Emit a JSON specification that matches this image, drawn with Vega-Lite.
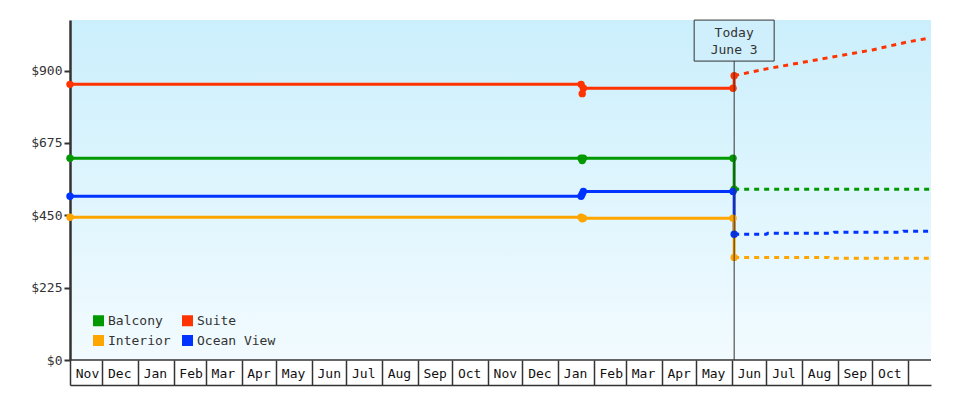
{
  "$schema": "https://vega.github.io/schema/vega-lite/v6.json",
  "width": 861,
  "height": 340,
  "autosize": {"type": "none"},
  "padding": {"left": 70, "top": 20, "right": 49, "bottom": 40},
  "background": "white",
  "config": {
    "font": "DejaVu Sans Mono",
    "view": {
      "stroke": null,
      "fill": {
        "gradient": "linear", "x1": 0, "y1": 0, "x2": 0, "y2": 1,
        "stops": [{"offset": 0, "color": "#cbeffc"}, {"offset": 1, "color": "#f2fbff"}]
      }
    },
    "legend": {
      "title": null, "orient": "none", "legendX": 22, "legendY": 294, "columns": 2,
      "symbolType": "square", "symbolSize": 121, "symbolStrokeWidth": 0, "symbolOpacity": 1,
      "labelFont": "DejaVu Sans Mono", "labelFontSize": 13, "labelColor": "#333",
      "labelOffset": 3, "columnPadding": 10, "rowPadding": 6
    }
  },
  "data": {
    "values": [
      {"s": "Suite", "d": "2012-11-03", "p": 857, "k": "h"},
      {"s": "Suite", "d": "2014-01-21", "p": 857, "k": "h"},
      {"s": "Suite", "d": "2014-01-22", "p": 828, "k": "h"},
      {"s": "Suite", "d": "2014-01-23", "p": 845, "k": "h"},
      {"s": "Suite", "d": "2014-06-02", "p": 845, "k": "h"},
      {"s": "Suite", "d": "2014-06-03", "p": 884, "k": "h"},
      {"s": "Suite", "d": "2014-06-03", "p": 884, "k": "f"},
      {"s": "Suite", "d": "2014-07-01", "p": 905, "k": "f"},
      {"s": "Suite", "d": "2014-08-01", "p": 925, "k": "f"},
      {"s": "Suite", "d": "2014-09-01", "p": 945, "k": "f"},
      {"s": "Suite", "d": "2014-10-01", "p": 964, "k": "f"},
      {"s": "Suite", "d": "2014-11-01", "p": 989, "k": "f"},
      {"s": "Suite", "d": "2014-11-20", "p": 1001, "k": "f"},
      {"s": "Balcony", "d": "2012-11-03", "p": 627, "k": "h"},
      {"s": "Balcony", "d": "2014-01-21", "p": 627, "k": "h"},
      {"s": "Balcony", "d": "2014-01-22", "p": 620, "k": "h"},
      {"s": "Balcony", "d": "2014-01-23", "p": 627, "k": "h"},
      {"s": "Balcony", "d": "2014-06-02", "p": 627, "k": "h"},
      {"s": "Balcony", "d": "2014-06-03", "p": 531, "k": "h"},
      {"s": "Balcony", "d": "2014-06-03", "p": 531, "k": "f"},
      {"s": "Balcony", "d": "2014-11-20", "p": 531, "k": "f"},
      {"s": "Ocean View", "d": "2012-11-03", "p": 509, "k": "h"},
      {"s": "Ocean View", "d": "2014-01-21", "p": 509, "k": "h"},
      {"s": "Ocean View", "d": "2014-01-22", "p": 516, "k": "h"},
      {"s": "Ocean View", "d": "2014-01-23", "p": 524, "k": "h"},
      {"s": "Ocean View", "d": "2014-06-02", "p": 524, "k": "h"},
      {"s": "Ocean View", "d": "2014-06-03", "p": 391, "k": "h"},
      {"s": "Ocean View", "d": "2014-06-03", "p": 391, "k": "f"},
      {"s": "Ocean View", "d": "2014-07-01", "p": 391, "k": "f"},
      {"s": "Ocean View", "d": "2014-07-02", "p": 394, "k": "f"},
      {"s": "Ocean View", "d": "2014-08-28", "p": 394, "k": "f"},
      {"s": "Ocean View", "d": "2014-08-29", "p": 397, "k": "f"},
      {"s": "Ocean View", "d": "2014-10-27", "p": 397, "k": "f"},
      {"s": "Ocean View", "d": "2014-10-28", "p": 400, "k": "f"},
      {"s": "Ocean View", "d": "2014-11-20", "p": 400, "k": "f"},
      {"s": "Interior", "d": "2012-11-03", "p": 444, "k": "h"},
      {"s": "Interior", "d": "2014-01-21", "p": 444, "k": "h"},
      {"s": "Interior", "d": "2014-01-22", "p": 439, "k": "h"},
      {"s": "Interior", "d": "2014-01-23", "p": 441, "k": "h"},
      {"s": "Interior", "d": "2014-06-02", "p": 441, "k": "h"},
      {"s": "Interior", "d": "2014-06-03", "p": 319, "k": "h"},
      {"s": "Interior", "d": "2014-06-03", "p": 319, "k": "f"},
      {"s": "Interior", "d": "2014-08-24", "p": 319, "k": "f"},
      {"s": "Interior", "d": "2014-08-25", "p": 316, "k": "f"},
      {"s": "Interior", "d": "2014-11-20", "p": 316, "k": "f"}
    ]
  },
  "layer": [
    {
      "data": {"values": [{}]},
      "mark": {"type": "rule", "color": "#333", "strokeWidth": 1.5},
      "encoding": {"y": {"datum": 0}}
    },
    {
      "transform": [{"filter": "datum.k == 'h'"}],
      "mark": {"type": "line", "interpolate": "step-after", "strokeWidth": 3},
      "encoding": {
        "x": {
          "field": "d", "type": "temporal",
          "scale": {
            "type": "utc", "nice": false,
            "domain": [{"year": 2012, "month": 11, "date": 3, "utc": true}, {"year": 2014, "month": 11, "date": 21, "utc": true}]
          },
          "axis": {
            "title": null, "orient": "bottom", "offset": 25, "grid": false, "tickCount": 40,
            "values": [
              {"year": 2012, "month": 11, "date": 3, "utc": true},
              {"year": 2012, "month": 12, "date": 1, "utc": true},
              {"year": 2013, "month": 1, "date": 1, "utc": true},
              {"year": 2013, "month": 2, "date": 1, "utc": true},
              {"year": 2013, "month": 3, "date": 1, "utc": true},
              {"year": 2013, "month": 4, "date": 1, "utc": true},
              {"year": 2013, "month": 5, "date": 1, "utc": true},
              {"year": 2013, "month": 6, "date": 1, "utc": true},
              {"year": 2013, "month": 7, "date": 1, "utc": true},
              {"year": 2013, "month": 8, "date": 1, "utc": true},
              {"year": 2013, "month": 9, "date": 1, "utc": true},
              {"year": 2013, "month": 10, "date": 1, "utc": true},
              {"year": 2013, "month": 11, "date": 1, "utc": true},
              {"year": 2013, "month": 12, "date": 1, "utc": true},
              {"year": 2014, "month": 1, "date": 1, "utc": true},
              {"year": 2014, "month": 2, "date": 1, "utc": true},
              {"year": 2014, "month": 3, "date": 1, "utc": true},
              {"year": 2014, "month": 4, "date": 1, "utc": true},
              {"year": 2014, "month": 5, "date": 1, "utc": true},
              {"year": 2014, "month": 6, "date": 1, "utc": true},
              {"year": 2014, "month": 7, "date": 1, "utc": true},
              {"year": 2014, "month": 8, "date": 1, "utc": true},
              {"year": 2014, "month": 9, "date": 1, "utc": true},
              {"year": 2014, "month": 10, "date": 1, "utc": true},
              {"year": 2014, "month": 11, "date": 1, "utc": true}
            ],
            "labelExpr": "datum.value > utc(2014, 9, 15) ? '' : utcFormat(datum.value, '%b')",
            "tickSize": -25, "tickColor": "#333", "tickWidth": 1.5,
            "domainColor": "#333", "domainWidth": 1.5,
            "labelAlign": "center", "labelBaseline": "middle", "labelOffset": 17, "labelPadding": 13,
            "labelFont": "DejaVu Sans Mono", "labelFontSize": 13, "labelColor": "#111",
            "labelOverlap": false, "labelBound": false, "labelFlush": false
          }
        },
        "y": {
          "field": "p", "type": "quantitative",
          "scale": {"domain": [0, 1057], "nice": false},
          "axis": {
            "title": null, "grid": false, "values": [0, 225, 450, 675, 900],
            "labelExpr": "'$' + datum.value",
            "tickSize": 6, "tickWidth": 2, "tickColor": "#333",
            "domainColor": "#333", "domainWidth": 2.5,
            "labelFont": "DejaVu Sans Mono", "labelFontSize": 13, "labelColor": "#333", "labelPadding": 2
          }
        },
        "stroke": {
          "field": "s", "type": "nominal",
          "scale": {"domain": ["Balcony", "Interior", "Suite", "Ocean View"], "range": ["#009900", "#ffa500", "#ff3300", "#0033ff"]}
        }
      }
    },
    {
      "transform": [{"filter": "datum.k == 'f'"}],
      "mark": {"type": "line", "strokeWidth": 3, "strokeDash": [5, 5]},
      "encoding": {
        "x": {"field": "d", "type": "temporal"},
        "y": {"field": "p", "type": "quantitative"},
        "stroke": {"field": "s", "type": "nominal"}
      }
    },
    {
      "transform": [{"filter": "datum.k == 'h'"}],
      "mark": {"type": "point", "shape": "circle", "filled": true, "size": 55, "opacity": 1},
      "encoding": {
        "x": {"field": "d", "type": "temporal"},
        "y": {"field": "p", "type": "quantitative"},
        "fill": {
          "field": "s", "type": "nominal",
          "scale": {"domain": ["Balcony", "Interior", "Suite", "Ocean View"], "range": ["#009900", "#ffa500", "#ff3300", "#0033ff"]}
        }
      }
    },
    {
      "data": {"values": [{"t": "2014-06-03"}]},
      "mark": {"type": "rule", "color": "#333", "strokeWidth": 1},
      "encoding": {
        "x": {"field": "t", "type": "temporal"},
        "y": {"datum": 0},
        "y2": {"datum": 930}
      }
    },
    {
      "data": {"values": [{"t": "2014-06-03", "v": 993}]},
      "mark": {"type": "rect", "width": 80, "height": 41, "fill": "#cfeffc", "stroke": "#333", "strokeWidth": 1},
      "encoding": {
        "x": {"field": "t", "type": "temporal"},
        "y": {"field": "v", "type": "quantitative"}
      }
    },
    {
      "data": {"values": [{"t": "2014-06-03", "v": 1017, "label": ["Today", "June 3"]}]},
      "mark": {"type": "text", "font": "DejaVu Sans Mono", "fontSize": 13, "color": "#333", "baseline": "middle", "align": "center", "lineHeight": 17},
      "encoding": {
        "x": {"field": "t", "type": "temporal"},
        "y": {"field": "v", "type": "quantitative"},
        "text": {"field": "label"}
      }
    }
  ]
}
